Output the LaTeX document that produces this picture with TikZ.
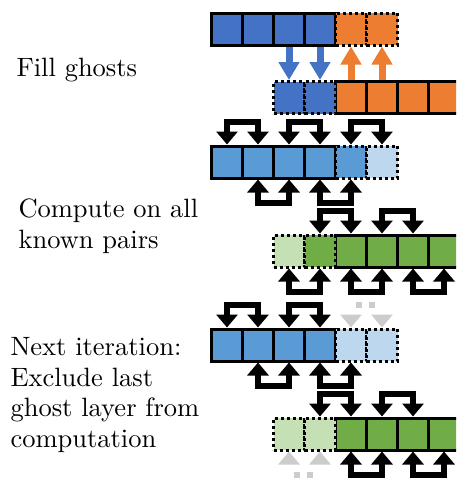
\documentclass[tikz,border=0pt]{standalone}
\usepackage{tikz}
\usepackage{xcolor}
\usetikzlibrary{arrows.meta}
\definecolor{cellBlue}{RGB}{68,114,196}
\definecolor{cellOrange}{RGB}{237,125,49}
\definecolor{cellSky}{RGB}{91,155,213}
\definecolor{cellSkyLight}{RGB}{189,215,238}
\definecolor{cellGreen}{RGB}{112,173,71}
\definecolor{cellGreenLight}{RGB}{197,224,180}
\definecolor{cellGrey}{RGB}{204,204,204}

\begin{document}
\begin{tikzpicture}[x=1pt, y=-1pt,
    cell/.style={draw=black, line width=3pt, minimum width=31pt, minimum height=32pt, inner sep=0pt},
    ghost/.style={cell, dash pattern=on 3pt off 3pt},
    pair/.style={line width=6pt, line join=miter, <->, >={Triangle[width=21pt,length=13pt]}},
    skipped/.style={pair, cellGrey, dash pattern=on 0pt off 16pt on 6pt off 7pt on 6pt off 30pt},
    fillarrow/.style={line width=7pt, -{Triangle[width=20pt,length=18pt]}},
    phase/.style={font=\fontsize{10}{11.5}\selectfont, scale=2.65, align=left, anchor=west, inner sep=0pt}]
        \clip (0,0) rectangle (456,479);
        % fill ghosts
        \foreach \c in {1,...,4} \node[cell, fill=cellBlue] (r1c\c) at ({196+31*\c},29) {};
        \foreach \c in {5,6} \node[ghost, fill=cellOrange] (r1c\c) at ({196+31*\c},29) {};
        \foreach \c in {5,...,8} \node[cell, fill=cellOrange] (r2c\c) at ({196+31*\c},97.5) {};
        \foreach \c in {3,4} \node[ghost, fill=cellBlue] (r2c\c) at ({196+31*\c},97.5) {};
        \draw[fillarrow, cellBlue] (r1c3.south) -- (r2c3.north);
        \draw[fillarrow, cellBlue] (r1c4.south) -- (r2c4.north);
        \draw[fillarrow, cellOrange] (r2c5.north) -- (r1c5.south);
        \draw[fillarrow, cellOrange] (r2c6.north) -- (r1c6.south);
        \node[phase] (fillText) at (16,70) {Fill ghosts};
        % compute on all known pairs
        \foreach \c in {1,...,4} \node[cell, fill=cellSky] (r3c\c) at ({196+31*\c},162) {};
        \node[ghost, fill=cellSky] (r3c5) at (351,162) {};
        \node[ghost, fill=cellSkyLight] (r3c6) at (382,162) {};
        \foreach \c in {5,...,8} \node[cell, fill=cellGreen] (r4c\c) at ({196+31*\c},251) {};
        \node[ghost, fill=cellGreenLight] (r4c3) at (289,251) {};
        \node[ghost, fill=cellGreen] (r4c4) at (320,251) {};
        \foreach \a/\b in {1/2,3/4,5/6} \draw[pair] (r3c\a.north) -- ++(0,-23) -| (r3c\b.north);
        \foreach \a/\b in {2/3,4/5} \draw[pair] (r3c\a.south) -- ++(0,23) -| (r3c\b.south);
        \foreach \a/\b in {4/5,6/7} \draw[pair] (r4c\a.north) -- ++(0,-23) -| (r4c\b.north);
        \foreach \a/\b in {3/4,5/6,7/8} \draw[pair] (r4c\a.south) -- ++(0,23) -| (r4c\b.south);
        \node[phase] (computeText) at (18,226) {Compute on all\\known pairs};
        % next iteration
        \foreach \c in {1,...,4} \node[cell, fill=cellSky] (r5c\c) at ({196+31*\c},345) {};
        \foreach \c in {5,6} \node[ghost, fill=cellSkyLight] (r5c\c) at ({196+31*\c},345) {};
        \foreach \c in {5,...,8} \node[cell, fill=cellGreen] (r6c\c) at ({196+31*\c},434) {};
        \foreach \c in {3,4} \node[ghost, fill=cellGreenLight] (r6c\c) at ({196+31*\c},434) {};
        \foreach \a/\b in {1/2,3/4} \draw[pair] (r5c\a.north) -- ++(0,-23) -| (r5c\b.north);
        \draw[skipped] (r5c5.north) -- ++(0,-23) -| (r5c6.north);
        \foreach \a/\b in {2/3,4/5} \draw[pair] (r5c\a.south) -- ++(0,23) -| (r5c\b.south);
        \foreach \a/\b in {4/5,6/7} \draw[pair] (r6c\a.north) -- ++(0,-23) -| (r6c\b.north);
        \draw[skipped] (r6c3.south) -- ++(0,23) -| (r6c4.south);
        \foreach \a/\b in {5/6,7/8} \draw[pair] (r6c\a.south) -- ++(0,23) -| (r6c\b.south);
        \node[phase] (nextText) at (10,395) {Next iteration:\\Exclude last\\ghost layer from\\computation};
      \end{tikzpicture}
\end{document}
